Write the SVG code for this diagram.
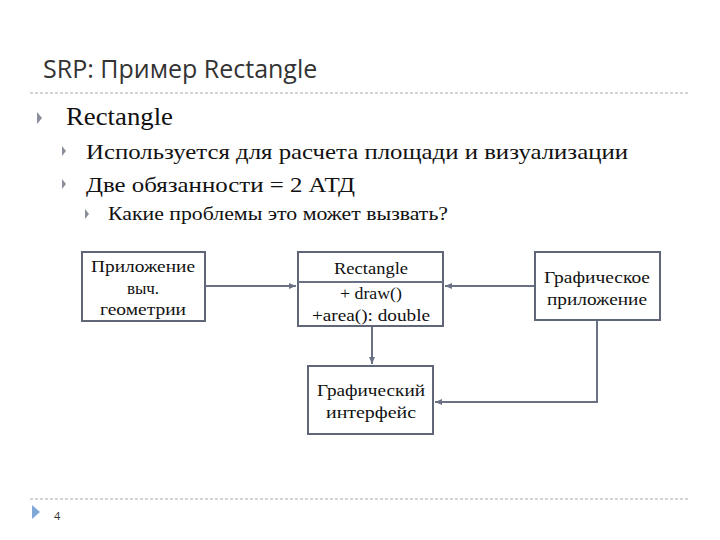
<svg xmlns="http://www.w3.org/2000/svg" width="720" height="540" viewBox="0 0 720 540">
<style>
.t{font-family:"Open Sans","Liberation Sans",sans-serif;fill:#333}
.s{font-family:"Liberation Serif",serif;fill:#111}
.b{fill:#fff;stroke:#5f6678;stroke-width:2}
.c{fill:none;stroke:#6b7184;stroke-width:2}
.bul{fill:#8a8f99}
</style>
<defs>
<marker id="a" markerWidth="8" markerHeight="8" refX="7" refY="4" orient="auto" markerUnits="userSpaceOnUse"><path d="M0,1 L7,4 L0,7 z" fill="#6b7184"/></marker>
</defs>
<rect width="720" height="540" fill="#fff"/>
<text class="t" x="43" y="78" font-size="25">SRP: Пример Rectangle</text>
<line x1="30" y1="93" x2="690" y2="93" stroke="#aaa" stroke-dasharray="3,2"/>
<line x1="30" y1="499" x2="690" y2="499" stroke="#aaa" stroke-dasharray="3,2"/>
<path class="bul" d="M37,112 L42,118 L37,124 z"/>
<text class="s" x="66" y="125" font-size="25" textLength="107" lengthAdjust="spacingAndGlyphs">Rectangle</text>
<path class="bul" d="M62,146 L66,151 L62,156 z"/>
<text class="s" x="86" y="159" font-size="22" fill="#333" textLength="542" lengthAdjust="spacingAndGlyphs">Используется для расчета площади и визуализации</text>
<path class="bul" d="M62,179 L66,184 L62,189 z"/>
<text class="s" x="86" y="192" font-size="22" fill="#333" textLength="269" lengthAdjust="spacingAndGlyphs">Две обязанности = 2 АТД</text>
<path class="bul" d="M85,209 L89,214 L85,219 z"/>
<text class="s" x="108" y="220" font-size="18" textLength="340" lengthAdjust="spacingAndGlyphs">Какие проблемы это может вызвать?</text>
<path d="M32,505 L40,512 L32,519 z" fill="#7fa8d6"/>
<text class="t" x="54" y="520" font-size="11">4</text>
<g id="connectors">
<line class="c" x1="205" y1="286" x2="296" y2="286" marker-end="url(#a)"/>
<line class="c" x1="535" y1="286" x2="445" y2="286" marker-end="url(#a)"/>
<line class="c" x1="372" y1="326" x2="372" y2="364" marker-end="url(#a)"/>
<polyline class="c" points="597,320 597,402 435,402" marker-end="url(#a)"/>
</g>
<g id="n1"><rect class="b" x="82" y="252" width="123" height="69"/>
<text class="s" font-size="17" text-anchor="middle"><tspan x="143" y="272" textLength="104" lengthAdjust="spacingAndGlyphs">Приложение</tspan><tspan x="143" y="294">выч.</tspan><tspan x="143" y="315" textLength="86" lengthAdjust="spacingAndGlyphs">геометрии</tspan></text></g>
<g id="n2"><rect class="b" x="298" y="252" width="145" height="74"/><line class="c" x1="298" y1="282" x2="443" y2="282"/>
<text class="s" font-size="17" text-anchor="middle"><tspan x="371" y="274" textLength="74" lengthAdjust="spacingAndGlyphs">Rectangle</tspan><tspan x="371" y="299" textLength="62" lengthAdjust="spacingAndGlyphs">+ draw()</tspan><tspan x="371" y="321" textLength="118" lengthAdjust="spacingAndGlyphs">+area(): double</tspan></text></g>
<g id="n3"><rect class="b" x="535" y="252" width="125" height="68"/>
<text class="s" font-size="17" text-anchor="middle"><tspan x="597" y="283" textLength="106" lengthAdjust="spacingAndGlyphs">Графическое</tspan><tspan x="597" y="305" textLength="100" lengthAdjust="spacingAndGlyphs">приложение</tspan></text></g>
<g id="n4"><rect class="b" x="308" y="366" width="125" height="68"/>
<text class="s" font-size="17" text-anchor="middle"><tspan x="371" y="396" textLength="108" lengthAdjust="spacingAndGlyphs">Графический</tspan><tspan x="371" y="418" textLength="90" lengthAdjust="spacingAndGlyphs">интерфейс</tspan></text></g>
</svg>
